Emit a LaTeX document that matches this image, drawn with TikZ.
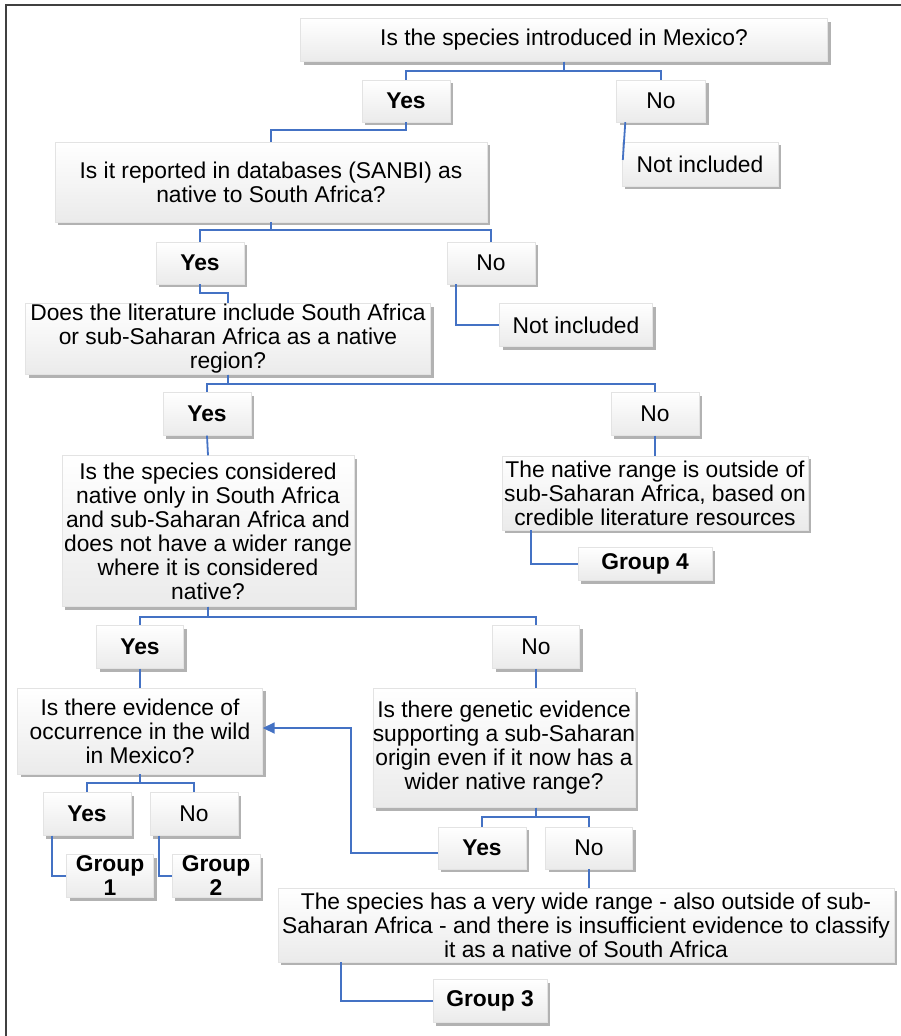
\documentclass[tikz,border=0pt]{standalone}
\usepackage{fontspec}
\setmainfont{Liberation Sans}
\usetikzlibrary{arrows.meta, shadows}

\newcommand{\qfont}{\fontsize{22.8}{24}\selectfont}

\begin{document}
\begin{tikzpicture}[x=1pt, y=-1pt,
  box/.style={draw=gray!22, top color=white, bottom color=gray!16,
    drop shadow={shadow xshift=3pt, shadow yshift=-3pt, fill=black, opacity=0.3},
    align=center, inner sep=0pt, font=\qfont},
  ans/.style={box, font=\qfont\bfseries},
  link/.style={draw=linkblue, line width=1.8pt}]
% Define colors
\definecolor{linkblue}{RGB}{68, 114, 196}

\useasboundingbox (0,0) rectangle (901,1036);
% Frame
\draw[line width=2.2pt, black!75] (901,5) -- (6,5) -- (6,1036);

% Question: introduced in Mexico
\node[box, minimum width=527, minimum height=43] (q1) at (564,40) {Is the species introduced in Mexico?};
\node[ans, minimum width=88, minimum height=42] (yes1) at (406,101) {Yes};
\node[box, minimum width=89, minimum height=42] (no1) at (661,101) {No};
\node[box, minimum width=156, minimum height=44] (notinc1) at (700,164) {Not included};

% Question: SANBI
\node[box, minimum width=432, minimum height=80] (q2) at (271,182) {Is it reported in databases (SANBI) as\\native to South Africa?};
\node[ans, minimum width=88, minimum height=42] (yes2) at (200,263) {Yes};
\node[box, minimum width=88, minimum height=42] (no2) at (491,263) {No};
\node[box, minimum width=153, minimum height=43] (notinc2) at (576,325) {Not included};

% Question: literature
\node[box, minimum width=405, minimum height=71] (q3) at (228,339) {Does the literature include South Africa\\or sub-Saharan Africa as a native\\region?};
\node[ans, minimum width=88, minimum height=43] (yes3) at (207,414) {Yes};
\node[box, minimum width=88, minimum height=43] (no3) at (655,414) {No};
\node[box, minimum width=306, minimum height=74] (outside) at (655,493) {The native range is outside of\\sub-Saharan Africa, based on\\credible literature resources};
\node[ans, minimum width=134, minimum height=33] (group4) at (645,564) {Group 4};

% Question: native only in South Africa
\node[box, minimum width=292, minimum height=151] (q4) at (208,531) {Is the species considered\\native only in South Africa\\and sub-Saharan Africa and\\does not have a wider range\\where it is considered\\native?};
\node[ans, minimum width=87, minimum height=43] (yes4) at (140,647) {Yes};
\node[box, minimum width=87, minimum height=43] (no4) at (536,647) {No};

% Question: occurrence in the wild
\node[box, minimum width=245, minimum height=86] (q5) at (140,731) {Is there evidence of\\occurrence in the wild\\in Mexico?};
\node[ans, minimum width=88, minimum height=43] (yes5) at (87,814) {Yes};
\node[box, minimum width=88, minimum height=43] (no5) at (194,814) {No};
\node[ans, minimum width=87, minimum height=43] (group1) at (110,876) {Group\\1};
\node[ans, minimum width=88, minimum height=43] (group2) at (216,876) {Group\\2};

% Question: genetic evidence
\node[box, minimum width=256, minimum height=119] (q6) at (504,748) {Is there genetic evidence\\supporting a sub-Saharan\\origin even if it now has a\\wider native range?};
\node[ans, minimum width=88, minimum height=42] (yes6) at (482,848) {Yes};
\node[box, minimum width=87, minimum height=42] (no6) at (589,848) {No};
\node[box, minimum width=616, minimum height=74] (q7) at (586,925) {The species has a very wide range - also outside of sub-\\Saharan Africa - and there is insufficient evidence to classify\\it as a native of South Africa};
\node[ans, minimum width=114, minimum height=43] (group3) at (490,1001) {Group 3};

% Connectors
\draw[link] (q1.south) -- ++(0,9) -| (yes1.north);
\draw[link] (q1.south) -- ++(0,9) -| (no1.north);
\draw[link] ([xshift=9pt]no1.south west) -- ([xshift=1pt, yshift=4pt]notinc1.west);
\draw[link] (yes1.south) -- ++(0,8) -| (q2.north);

\draw[link] (q2.south) -- ++(0,8) -| (yes2.north);
\draw[link] (q2.south) -- ++(0,8) -| (no2.north);
\draw[link] ([xshift=9pt]no2.south west) |- (notinc2.west);
\draw[link] (yes2.south) -- ++(0,9) -| (q3.north);

\draw[link] (q3.south) -- ++(0,9) -| (yes3.north);
\draw[link] (q3.south) -- ++(0,9) -| (no3.north);
\draw[link] (no3.south) -- (outside.north);
\draw[link] ([xshift=29pt]outside.south west) |- (group4.west);
\draw[link] (yes3.south) -- (q4.north);

\draw[link] (q4.south) -- ++(0,10) -| (yes4.north);
\draw[link] (q4.south) -- ++(0,10) -| (no4.north);
\draw[link] (yes4.south) -- (q5.north);
\draw[link] (no4.south) -- (no4.south |- q6.north);

\draw[link] (q5.south) -- ++(0,9) -| (yes5.north);
\draw[link] (q5.south) -- ++(0,9) -| (no5.north);
\draw[link] ([xshift=9pt]yes5.south west) |- (group1.west);
\draw[link] ([xshift=9pt]no5.south west) |- (group2.west);

\draw[link] (q6.south -| no4.south) -- ++(0,9) -| (yes6.north);
\draw[link] (q6.south -| no4.south) -- ++(0,9) -| (no6.north);
\draw[link, -{Triangle[length=12pt, width=11pt]}] ([yshift=-5pt]yes6.west) -- ++(-87,0) |- ([yshift=3pt]q5.east);
\draw[link] (no6.south) -- (no6.south |- q7.north);
\draw[link] ([xshift=63pt]q7.south west) |- (group3.west);
\end{tikzpicture}
\end{document}
